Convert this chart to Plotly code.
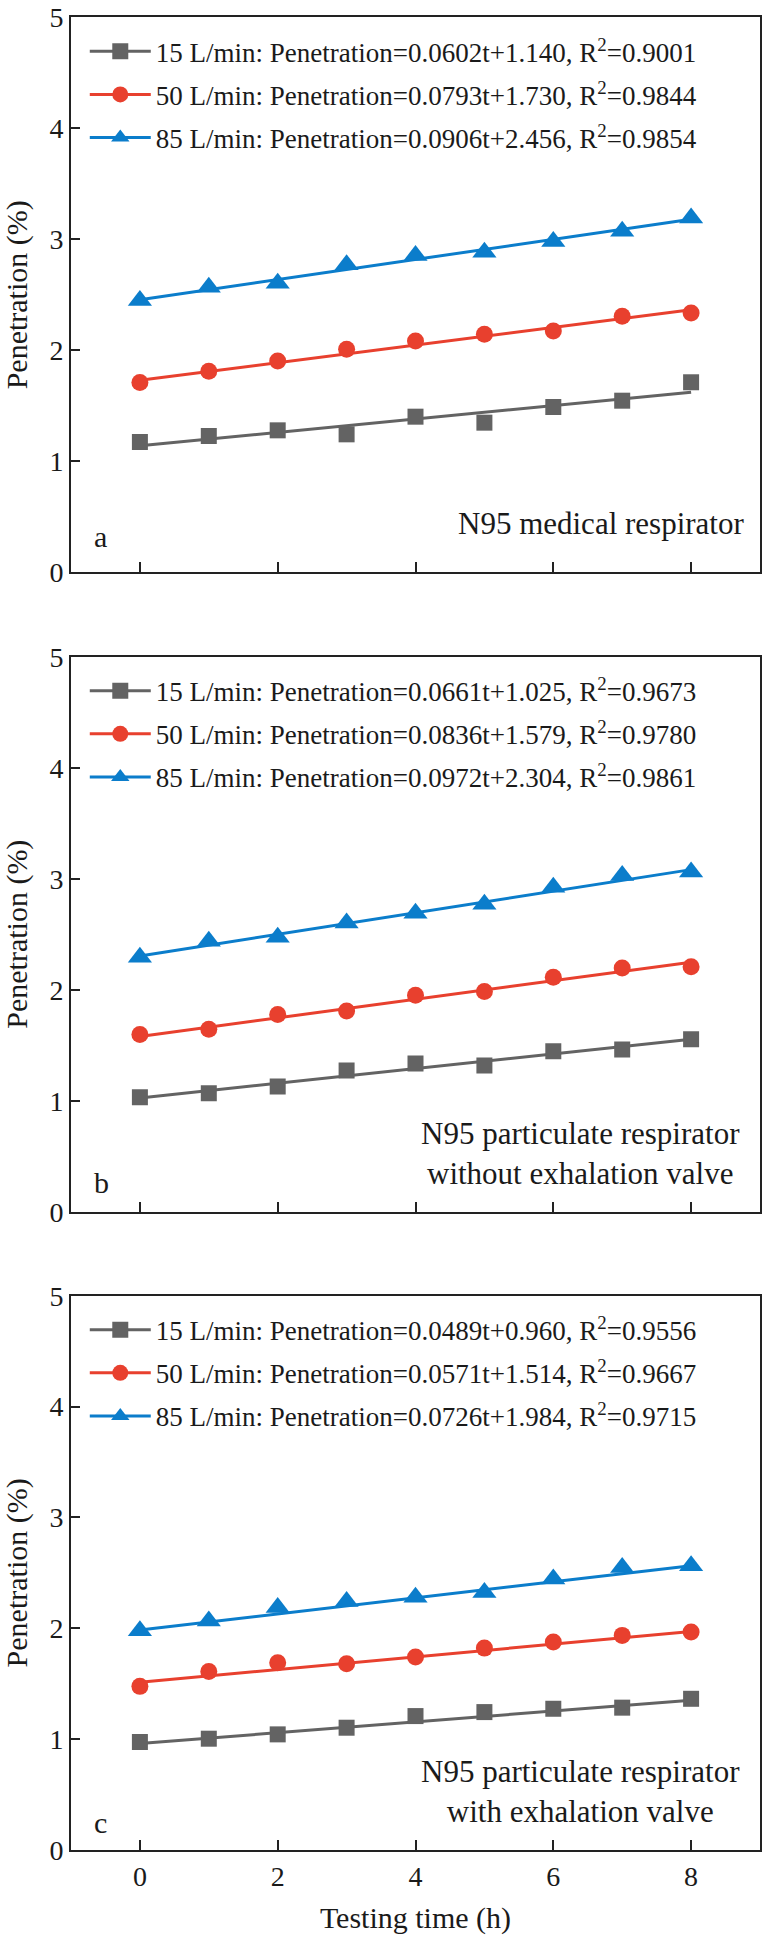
import plotly.graph_objects as go
from plotly.subplots import make_subplots

# ---------------- data ----------------
time_h = [0, 1, 2, 3, 4, 5, 6, 7, 8]
flow_labels = ["15 L/min", "50 L/min", "85 L/min"]

# Panel a: N95 medical respirator
a_15 = [1.174, 1.228, 1.279, 1.243, 1.402, 1.348, 1.489, 1.546, 1.712]
a_50 = [1.709, 1.811, 1.904, 2.009, 2.084, 2.144, 2.174, 2.306, 2.336]
a_85 = [2.448, 2.568, 2.605, 2.770, 2.854, 2.884, 2.980, 3.072, 3.192]
a_slope = [0.0602, 0.0793, 0.0906]
a_icpt = [1.140, 1.730, 2.456]
a_r2 = ["0.9001", "0.9844", "0.9854"]

# Panel b: N95 particulate respirator without exhalation valve
b_15 = [1.031, 1.068, 1.128, 1.272, 1.335, 1.317, 1.446, 1.461, 1.554]
b_50 = [1.596, 1.644, 1.776, 1.809, 1.950, 1.984, 2.113, 2.196, 2.206]
b_85 = [2.293, 2.437, 2.473, 2.602, 2.689, 2.770, 2.923, 3.029, 3.060]
b_slope = [0.0661, 0.0836, 0.0972]
b_icpt = [1.025, 1.579, 2.304]
b_r2 = ["0.9673", "0.9780", "0.9861"]

# Panel c: N95 particulate respirator with exhalation valve
c_15 = [0.974, 1.004, 1.043, 1.103, 1.208, 1.244, 1.274, 1.284, 1.364]
c_50 = [1.476, 1.611, 1.689, 1.680, 1.740, 1.821, 1.876, 1.936, 1.966]
c_85 = [1.978, 2.065, 2.188, 2.242, 2.279, 2.323, 2.444, 2.549, 2.564]
c_slope = [0.0489, 0.0571, 0.0726]
c_icpt = [0.960, 1.514, 1.984]
c_r2 = ["0.9556", "0.9667", "0.9715"]

panel_letters = ["a", "b", "c"]
panel_desc = ["N95 medical respirator",
              "N95 particulate respirator<br>without exhalation valve",
              "N95 particulate respirator<br>with exhalation valve"]
x_ticks = [0, 2, 4, 6, 8]
y_ticks = [0, 1, 2, 3, 4, 5]

# ---------------- style ----------------
colors = ["#636363", "#E8402E", "#0B7DCB"]
symbols = ["square", "circle", "triangle-up"]
msizes = [16, 17, 21]
FONT = "Liberation Serif, Times New Roman, serif"
TXT = "#1a1a1a"

panels = [
    dict(ys=[a_15, a_50, a_85], slope=a_slope, icpt=a_icpt, r2=a_r2),
    dict(ys=[b_15, b_50, b_85], slope=b_slope, icpt=b_icpt, r2=b_r2),
    dict(ys=[c_15, c_50, c_85], slope=c_slope, icpt=c_icpt, r2=c_r2),
]

fig = make_subplots(rows=3, cols=1, vertical_spacing=0.0)

W, H = 764, 1940
ML, MR, MT, MB = 71, 4, 17, 90
plot_h = H - MT - MB
tops = [17.3, 656.7, 1295.7]
ph = 555
domains = []
for t in tops:
    y1 = (H - MB - t) / plot_h
    y0 = (H - MB - (t + ph)) / plot_h
    domains.append([max(0, y0), min(1, y1)])

legend_names = ["legend", "legend2", "legend3"]

for p, pan in enumerate(panels):
    row = p + 1
    for s in range(3):
        fx = [time_h[0], time_h[-1]]
        fy = [pan["slope"][s] * xx + pan["icpt"][s] for xx in fx]
        fig.add_trace(go.Scatter(x=fx, y=fy, mode="lines",
                                 line=dict(color=colors[s], width=3),
                                 showlegend=False, hoverinfo="skip"),
                      row=row, col=1)
        fig.add_trace(go.Scatter(x=time_h, y=pan["ys"][s], mode="markers",
                                 marker=dict(color=colors[s], symbol=symbols[s],
                                             size=msizes[s]),
                                 showlegend=False),
                      row=row, col=1)
    for s in range(3):
        name = (f"{flow_labels[s]}: Penetration={pan['slope'][s]:.4f}t+"
                f"{pan['icpt'][s]:.3f}, R<sup>2</sup>={pan['r2'][s]}")
        fig.add_trace(go.Scatter(x=[None], y=[None], mode="lines+markers",
                                 line=dict(color=colors[s], width=3),
                                 marker=dict(color=colors[s], symbol=symbols[s],
                                             size=msizes[s]),
                                 name=name, legend=legend_names[p],
                                 legendgroup=f"p{p}s{s}", showlegend=True),
                      row=row, col=1)

axis_common = dict(showline=True, linecolor="#222222", linewidth=2, mirror=True,
                   ticks="inside", tickcolor="#222222", tickwidth=1.5,
                   showgrid=False, zeroline=False, automargin=False,
                   tickfont=dict(family=FONT, size=28, color=TXT))

for p in range(3):
    row = p + 1
    fig.update_xaxes(range=[-1, 9], tickvals=x_ticks, ticklen=10,
                     showticklabels=(p == 2), row=row, col=1, **axis_common)
    fig.update_yaxes(range=[0, 5], tickvals=y_ticks, ticklen=9,
                     domain=domains[p], row=row, col=1,
                     title=dict(text="Penetration (%)", standoff=18,
                                font=dict(family=FONT, size=30, color=TXT)),
                     **axis_common)

fig.update_xaxes(title=dict(text="Testing time (h)", standoff=16,
                            font=dict(family=FONT, size=30, color=TXT)),
                 row=3, col=1)

leg_common = dict(font=dict(family=FONT, size=27, color=TXT),
                  bgcolor="rgba(0,0,0,0)", borderwidth=0,
                  traceorder="grouped", tracegroupgap=5,
                  itemwidth=61, xanchor="left", yanchor="top", itemclick=False)
layout_leg = {}
for p in range(3):
    top_pix = tops[p] + 10
    ypaper = (H - MB - top_pix) / plot_h
    layout_leg[legend_names[p]] = dict(x=0.02, y=ypaper, **leg_common)

annotations = []
letter_y = [0.065, 0.052, 0.050]
desc_y = [0.088, 0.105, 0.105]
for p in range(3):
    xd = "x domain" if p == 0 else f"x{p+1} domain"
    yd = "y domain" if p == 0 else f"y{p+1} domain"
    annotations.append(dict(text=panel_letters[p], xref=xd, yref=yd,
                            x=0.03, y=letter_y[p], xanchor="left", yanchor="middle",
                            showarrow=False,
                            font=dict(family=FONT, size=30, color=TXT)))
    if p == 0:
        annotations.append(dict(text=panel_desc[p], xref=xd, yref=yd,
                                x=0.979, y=desc_y[p], xanchor="right", yanchor="middle",
                                showarrow=False,
                                font=dict(family=FONT, size=31, color=TXT)))
    else:
        annotations.append(dict(text=panel_desc[p], xref=xd, yref=yd,
                                x=0.739, y=desc_y[p], xanchor="center", yanchor="middle",
                                align="center", showarrow=False,
                                font=dict(family=FONT, size=31, color=TXT)))

fig.update_layout(width=W, height=H,
                  margin=dict(l=ML, r=MR, t=MT, b=MB),
                  paper_bgcolor="white", plot_bgcolor="white",
                  annotations=annotations,
                  **layout_leg)

fig.write_html("out.html",
               config={"displayModeBar": False},
               post_script="document.body.style.margin='0px';"
                           "document.body.style.overflow='hidden';")
